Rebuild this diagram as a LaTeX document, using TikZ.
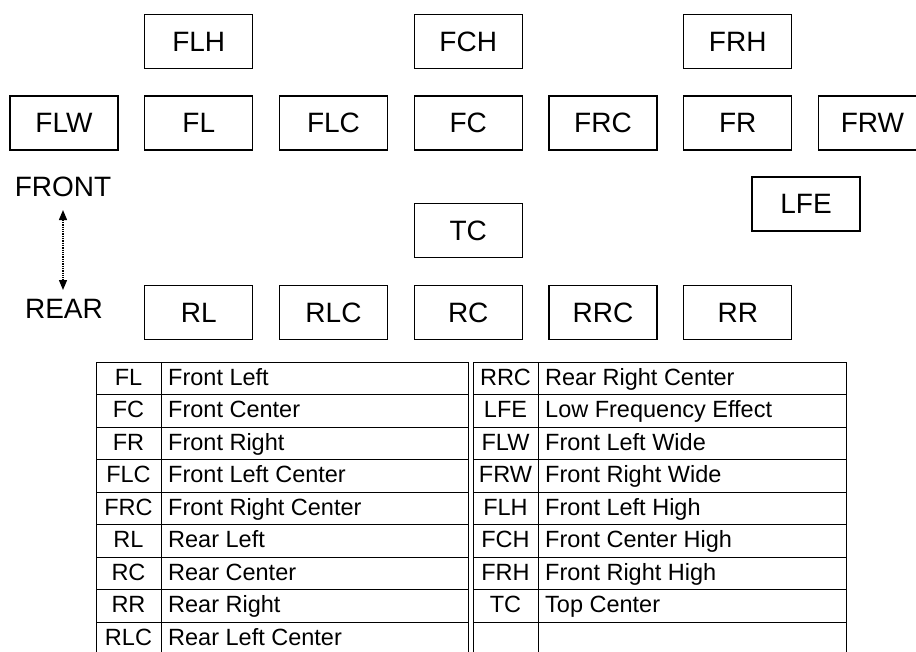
\documentclass[tikz,border=0pt]{standalone}
\usepackage{fontspec}
\setmainfont{Liberation Sans}
\usetikzlibrary{arrows.meta}
\begin{document}
\begin{tikzpicture}[x=1pt,y=-1pt,
  spk/.style={draw,line width=1.3pt,minimum width=108pt,minimum height=54pt,inner sep=0pt,font=\fontsize{28}{32}\selectfont},
  lbl/.style={inner sep=0pt,font=\fontsize{28}{32}\selectfont},
  abbr/.style={inner sep=0pt,anchor=base,font=\fontsize{23.5}{26}\selectfont},
  desc/.style={inner sep=0pt,anchor=base west,font=\fontsize{23.5}{26}\selectfont},
  grid/.style={line width=1pt}]
\useasboundingbox (0,0) rectangle (916,651);
\clip (0,0) rectangle (916,651);
% speaker boxes
\node[spk] (FLH) at (198.75,41.5) {FLH};
\node[spk] (FCH) at (468.25,41.5) {FCH};
\node[spk] (FRH) at (737.75,41.5) {FRH};
\node[spk] (FLW) at (64,123) {FLW};
\node[spk] (FL)  at (198.75,123) {FL};
\node[spk] (FLC) at (333.5,123) {FLC};
\node[spk] (FC)  at (468.25,123) {FC};
\node[spk] (FRC) at (603,123) {FRC};
\node[spk] (FR)  at (737.75,123) {FR};
\node[spk] (FRW) at (872.5,123) {FRW};
\node[spk] (LFE) at (806,204) {LFE};
\node[spk] (TC)  at (468.25,230.5) {TC};
\node[spk] (RL)  at (198.75,312.5) {RL};
\node[spk] (RLC) at (333.5,312.5) {RLC};
\node[spk] (RC)  at (468.25,312.5) {RC};
\node[spk] (RRC) at (603,312.5) {RRC};
\node[spk] (RR)  at (737.75,312.5) {RR};
% front/rear
\node[lbl] (front) at (63,187) {FRONT};
\node[lbl] (rear) at (64,308.5) {REAR};
\coordinate (atop) at (63,210);
\coordinate (abot) at (63,290);
\draw[line width=1.3pt,densely dotted,{Triangle[length=10pt,width=8pt]}-{Triangle[length=10pt,width=8pt]}] (atop) -- (abot);
% table grid
\foreach \k in {0,...,9} {
  \draw[grid] (96,{362+32.5*\k}) -- (468,{362+32.5*\k});
  \draw[grid] (473,{362+32.5*\k}) -- (846,{362+32.5*\k});
}
\foreach \xx in {96,161,468,473,538,846} {
  \draw[grid] (\xx,362) -- (\xx,660);
}
% table text
\foreach \a/\d [count=\i from 0] in {FL/Front Left,FC/Front Center,FR/Front Right,FLC/Front Left Center,FRC/Front Right Center,RL/Rear Left,RC/Rear Center,RR/Rear Right,RLC/Rear Left Center} {
  \node[abbr] (la\i) at (128.5,{362+32.5*\i+23}) {\a};
  \node[desc] (ld\i) at (168,{362+32.5*\i+23}) {\d};
}
\foreach \a/\d [count=\i from 0] in {RRC/Rear Right Center,LFE/Low Frequency Effect,FLW/Front Left Wide,FRW/Front Right Wide,FLH/Front Left High,FCH/Front Center High,FRH/Front Right High,TC/Top Center} {
  \node[abbr] (ra\i) at (505.5,{362+32.5*\i+23}) {\a};
  \node[desc] (rd\i) at (545,{362+32.5*\i+23}) {\d};
}
\end{tikzpicture}
\end{document}
